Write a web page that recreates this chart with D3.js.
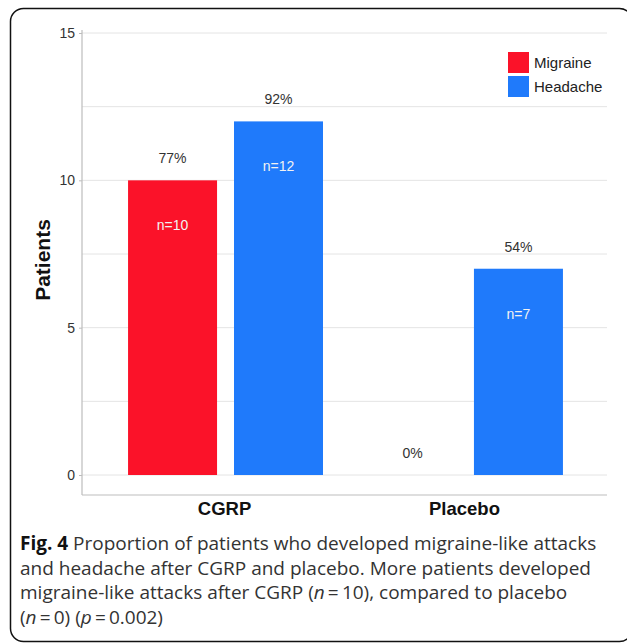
<!DOCTYPE html>
<html>
<head>
<meta charset="utf-8">
<script src="https://cdn.jsdelivr.net/npm/d3@7"></script>
<style>
  body { margin: 0; background: #fff; }
  svg { display: block; }
  .tick text { font-family: "Liberation Sans", Arial, sans-serif; font-size: 14px; fill: #333; }
</style>
</head>
<body>
<svg id="chart" width="627" height="643"></svg>
<script>
// data
const categories = ["CGRP", "Placebo"];
const seriesNames = ["Migraine", "Headache"];
const migraine = [10, 0];
const headache = [12, 7];
const migrainePct = ["77%", "0%"];
const headachePct = ["92%", "54%"];
const yTicks = [0, 5, 10, 15];
const colors = ["#fb1229", "#1f7afb"];

const svg = d3.select("#chart");

// outer frame
svg.append("rect")
    .attr("x", 10.5).attr("y", 8.5)
    .attr("width", 622).attr("height", 633)
    .attr("rx", 13)
    .attr("fill", "none")
    .attr("stroke", "#111")
    .attr("stroke-width", 1.5);

const plot = {left: 82, right: 607, top: 33, bottom: 475, axisY: 495};

const y = d3.scaleLinear().domain([0, 15]).range([plot.bottom, plot.top]);
const x0 = d3.scaleBand().domain(categories)
    .range([plot.left, plot.right]).paddingInner(0).paddingOuter(0.094);
const x1 = d3.scaleBand().domain(seriesNames)
    .range([23.5, x0.bandwidth() - 21.5]).paddingInner(0.16).paddingOuter(0);

// grid lines every 2.5
const g = svg.append("g");
g.selectAll("line.grid")
    .data(d3.range(0, 15.01, 2.5))
    .enter().append("line")
    .attr("class", "grid")
    .attr("x1", plot.left).attr("x2", plot.right)
    .attr("y1", d => y(d)).attr("y2", d => y(d))
    .attr("stroke", "#e4e4e4").attr("stroke-width", 1);

// y axis
const yAxis = svg.append("g")
    .attr("transform", `translate(${plot.left},0)`)
    .call(d3.axisLeft(y).tickValues(yTicks).tickSize(3).tickPadding(4));
yAxis.select(".domain").remove();
yAxis.selectAll(".tick line").attr("stroke", "#bbb");
svg.append("line")
    .attr("x1", plot.left).attr("x2", plot.left)
    .attr("y1", plot.top - 3).attr("y2", plot.axisY)
    .attr("stroke", "#bdbdbd").attr("stroke-width", 1.2);
svg.append("line")
    .attr("x1", plot.left).attr("x2", plot.right)
    .attr("y1", plot.axisY).attr("y2", plot.axisY)
    .attr("stroke", "#bdbdbd").attr("stroke-width", 1.2);

// category labels
svg.selectAll("text.cat")
    .data(categories)
    .enter().append("text")
    .attr("class", "cat")
    .attr("x", d => x0(d) + x0.bandwidth() / 2)
    .attr("y", 515)
    .attr("text-anchor", "middle")
    .attr("font-family", "Liberation Sans, Arial, sans-serif")
    .attr("font-weight", "bold")
    .attr("font-size", 18.5)
    .attr("fill", "#111")
    .text(d => d);

// y title
svg.append("text")
    .attr("transform", "translate(50,260) rotate(-90)")
    .attr("text-anchor", "middle")
    .attr("font-family", "Liberation Sans, Arial, sans-serif")
    .attr("font-weight", "bold")
    .attr("font-size", 21)
    .attr("fill", "#111")
    .text("Patients");

// bars
const rows = categories.map((c, i) => ({
    cat: c,
    vals: [
        {s: seriesNames[0], v: migraine[i], pct: migrainePct[i], c: colors[0]},
        {s: seriesNames[1], v: headache[i], pct: headachePct[i], c: colors[1]}
    ]
}));

const groups = svg.selectAll("g.grp")
    .data(rows)
    .enter().append("g")
    .attr("class", "grp")
    .attr("transform", d => `translate(${x0(d.cat)},0)`);

groups.selectAll("rect")
    .data(d => d.vals)
    .enter().append("rect")
    .attr("x", d => x1(d.s))
    .attr("width", x1.bandwidth())
    .attr("y", d => y(d.v))
    .attr("height", d => y(0) - y(d.v))
    .attr("fill", d => d.c);

groups.selectAll("text.pct")
    .data(d => d.vals)
    .enter().append("text")
    .attr("class", "pct")
    .attr("x", d => x1(d.s) + x1.bandwidth() / 2)
    .attr("y", d => y(d.v) - 17)
    .attr("text-anchor", "middle")
    .attr("font-family", "Liberation Sans, Arial, sans-serif")
    .attr("font-size", 14)
    .attr("fill", "#333")
    .text(d => d.pct);

groups.selectAll("text.n")
    .data(d => d.vals.filter(v => v.v > 0))
    .enter().append("text")
    .attr("class", "n")
    .attr("x", d => x1(d.s) + x1.bandwidth() / 2)
    .attr("y", d => y(d.v) + 50)
    .attr("text-anchor", "middle")
    .attr("font-family", "Liberation Sans, Arial, sans-serif")
    .attr("font-size", 14)
    .attr("fill", "#f2f2f2")
    .text(d => "n=" + d.v);

// legend
const legend = svg.append("g").attr("transform", "translate(508,52)");
seriesNames.forEach((s, i) => {
    legend.append("rect")
        .attr("x", 0).attr("y", i * 24)
        .attr("width", 21).attr("height", 21)
        .attr("fill", colors[i]);
    legend.append("text")
        .attr("x", 26).attr("y", i * 24 + 16)
        .attr("font-family", "Liberation Sans, Arial, sans-serif")
        .attr("font-size", 15)
        .attr("fill", "#222")
        .text(s);
});

// caption
const caption = [
    [["b", "Fig. 4"], ["", " Proportion of patients who developed migraine-like attacks"]],
    [["", "and headache after CGRP and placebo. More patients developed"]],
    [["", "migraine-like attacks after CGRP ("], ["i", "n"], ["", "\u2009=\u200910), compared to placebo"]],
    [["", "("], ["i", "n"], ["", "\u2009=\u20090) ("], ["i", "p"], ["", "\u2009=\u20090.002)"]]
];
const cap = svg.append("text")
    .attr("font-family", "Open Sans, sans-serif")
    .attr("font-size", 19)
    .attr("fill", "#333");
caption.forEach((line, i) => {
    line.forEach((part, j) => {
        const t = cap.append("tspan").text(part[1]);
        if (j === 0) t.attr("x", 20).attr("y", 550 + i * 24.5);
        if (part[0] === "b") t.attr("font-weight", "bold").attr("fill", "#111");
        if (part[0] === "i") t.attr("font-style", "italic");
    });
});
</script>
</body>
</html>
